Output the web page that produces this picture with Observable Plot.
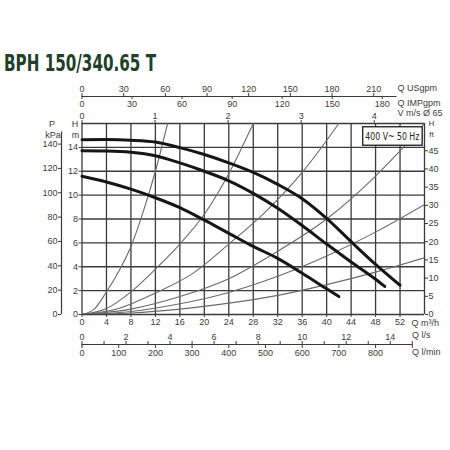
<!DOCTYPE html>
<html><head><meta charset="utf-8">
<script src="https://cdn.jsdelivr.net/npm/d3@7"></script>
<script src="https://cdn.jsdelivr.net/npm/@observablehq/plot@0.6"></script>
<style>
body{margin:0;background:#fff;}
#chart{width:450px;height:450px;}
</style></head><body><div id="chart"></div>
<script>
// ---- texts ----
const title = "BPH 150/340.65 T";
const voltageNote = "400 V~ 50 Hz";

// ---- pump curves (Q m3/h, H m) ----
const pumpQ1 = [0,4,8,12,16,20,24,28,32,36,40,44,48,52];
const pumpH1 = [14.64,14.65,14.6,14.45,13.98,13.4,12.7,11.9,10.9,9.7,8.05,6.1,4.2,2.45];
const pumpQ2 = [0,4,8,12,16,20,24,28,32,36,40,44,48,49.5];
const pumpH2 = [13.72,13.7,13.6,13.3,12.7,12.0,11.2,10.15,8.9,7.45,5.9,4.4,2.95,2.35];
const pumpQ3 = [0,4,8,12,16,20,24,28,32,36,40,42];
const pumpH3 = [11.58,11.1,10.5,9.78,8.95,7.9,6.8,5.7,4.7,3.45,2.15,1.5];

// ---- system curves (Q m3/h, H m) ----
const sysQ1 = [0,2,4,6,8,10,12,14];
const sysH1 = [0,0.45,1.9,3.6,5.7,8.6,12.0,16];
const sysQ2 = [0,4,8,12,16,20,24,28];
const sysH2 = [0,0.5,1.9,3.8,5.9,8.4,11.8,16];
const sysQ3 = [0,6,12,18,24,30,36,42];
const sysH3 = [0,0.5,1.8,3.4,5.9,8.6,11.9,16];
const sysQ4 = [0,8,16,24,32,40,48,52,56];
const sysH4 = [0,0.45,1.5,3.0,5.3,8.0,11.6,13.7,16];
const sysQ5 = [0,8,16,24,32,40,48,56];
const sysH5 = [0,0.25,0.9,1.85,3.2,4.9,6.9,9.2];
const sysQ6 = [0,8,16,24,32,40,48,56];
const sysH6 = [0,0.12,0.45,0.95,1.6,2.5,3.55,4.75];

// ---- ticks ----
const qTicks = [0,4,8,12,16,20,24,28,32,36,40,44,48,52];
const qGrid = [0,4,8,12,16,20,24,28,32,36,40,44,48,52,56];
const hTicks = [0,2,4,6,8,10,12,14];
const hGrid = [0,2,4,6,8,10,12,14,16];
const kpaTicks = [0,20,40,60,80,100,120,140];
const ftTicks = [0,5,10,15,20,25,30,35,40,45];
const usgpmTicks = [0,30,60,90,120,150,180,210];
const impgpmTicks = [0,30,60,90,120,150,180];
const velTicks = [0,1,2,3,4];
const lsTicks = [0,1,2,3,4,5,6,7,8,9,10,11,12,13,14,15];
const lsLabels = [0,2,4,6,8,10,12,14];
const lminTicks = [0,100,200,300,400,500,600,700,800,900];
const lminLabels = [0,100,200,300,400,500,600,700,800];

// ---- unit conversions ----
const KPA_PER_M = 9.80665, M_PER_FT = 0.3048;
const USGPM_PER_M3H = 4.4029, IMPGPM_PER_M3H = 3.6662;
const M3H_PER_MS = Math.PI * 0.0325 * 0.0325 * 3600; // DN65
const M3H_PER_LS = 3.6, M3H_PER_LMIN = 0.06;

const pumpData = [[pumpQ1,pumpH1],[pumpQ2,pumpH2],[pumpQ3,pumpH3]]
  .flatMap(([qs,hs],i)=>qs.map((q,j)=>({id:i,q,h:hs[j]})));
const sysData = [[sysQ1,sysH1],[sysQ2,sysH2],[sysQ3,sysH3],[sysQ4,sysH4],[sysQ5,sysH5],[sysQ6,sysH6]]
  .flatMap(([qs,hs],i)=>qs.map((q,j)=>({id:i,q,h:hs[j]})));

const gridColor = "#3a3a3a";
const ink = "#3c3c3c";
const narrow = "'Liberation Sans Narrow','DejaVu Sans Condensed','Arial Narrow',sans-serif";
const fmtSet = (set, conv) => d => { const v = Math.round(d*conv); return set.includes(v) ? String(v) : ""; };

const plot = Plot.plot({
  width: 450, height: 450,
  marginLeft: 81.5, marginRight: 26, marginTop: 123, marginBottom: 136,
  x: {domain: [0,56], label: null},
  y: {domain: [0,16], label: null},
  style: {fontFamily: "'Liberation Sans',Arial,sans-serif", fontSize: "9px", color: ink, background: "#fff", overflow: "visible"},
  marks: [
    Plot.ruleX(qGrid, {y1: 0, y2: 16, stroke: gridColor, strokeWidth: 1.3}),
    Plot.ruleY(hGrid, {x1: 0, x2: 56, stroke: gridColor, strokeWidth: 1.3}),
    Plot.line(sysData, {x: "q", y: "h", z: "id", stroke: "#6a6a6a", strokeWidth: 1.1, curve: "monotone-x", clip: true}),
    Plot.line(pumpData, {x: "q", y: "h", z: "id", stroke: "#161616", strokeWidth: 3, curve: "monotone-x"}),
    // H m (left)
    Plot.axisY(hTicks, {anchor: "left", tickSize: 3, tickPadding: 1, label: null}),
    // P kPa (far left)
    Plot.ruleX([0], {y1: 0, y2: 150 / KPA_PER_M, dx: -20.5, stroke: gridColor, strokeWidth: 1.2}),
    Plot.axisY(kpaTicks.map(k => k / KPA_PER_M), {anchor: "left", dx: -20.5, tickSize: 3, tickPadding: 1, label: null, tickFormat: d => String(Math.round(d * KPA_PER_M))}),
    // H ft (right)
    Plot.axisY(ftTicks.map(f => f * M_PER_FT), {anchor: "right", tickSize: 3, tickPadding: 1, label: null, tickFormat: d => String(Math.round(d / M_PER_FT))}),
    // Q m3/h (bottom)
    Plot.axisX(qTicks, {anchor: "bottom", tickSize: 3, tickPadding: 1, label: null}),
    // Q l/s and l/min
    Plot.ruleY([0], {x1: 0, x2: 15 * M3H_PER_LS, dy: 30, stroke: gridColor, strokeWidth: 1.2}),
    Plot.axisX(lsTicks.map(v => v * M3H_PER_LS), {anchor: "top", dy: 221, tickSize: 4, tickPadding: 1, label: null, tickFormat: fmtSet(lsLabels, 1 / M3H_PER_LS)}),
    Plot.axisX(lminTicks.map(v => v * M3H_PER_LMIN), {anchor: "bottom", dy: 30, tickSize: 4, tickPadding: 1, label: null, tickFormat: fmtSet(lminLabels, 1 / M3H_PER_LMIN)}),
    // Q USgpm and IMPgpm (top)
    Plot.ruleY([16], {x1: 0, x2: 51.5, dy: -27, stroke: gridColor, strokeWidth: 1.2}),
    Plot.axisX(usgpmTicks.map(v => v / USGPM_PER_M3H), {anchor: "top", dy: -27, tickSize: 4, tickPadding: 1, label: null, tickFormat: d => String(Math.round(d * USGPM_PER_M3H))}),
    Plot.axisX(impgpmTicks.map(v => v / IMPGPM_PER_M3H), {anchor: "bottom", dy: -218, tickSize: 3, tickPadding: 1, label: null, tickFormat: d => String(Math.round(d * IMPGPM_PER_M3H))}),
    // velocity
    Plot.axisX(velTicks.map(v => v * M3H_PER_MS), {anchor: "top", tickSize: 4, tickPadding: 1, label: null, tickFormat: d => String(Math.round(d / M3H_PER_MS))}),
    // unit labels
    Plot.text(["Q USgpm"], {frameAnchor: "top-right", dx: -27, dy: -35, textAnchor: "start", lineAnchor: "middle"}),
    Plot.text(["Q IMPgpm"], {frameAnchor: "top-right", dx: -27, dy: -20, textAnchor: "start", lineAnchor: "middle"}),
    Plot.text(["V m/s Ø 65"], {frameAnchor: "top-right", dx: -27, dy: -10, textAnchor: "start", lineAnchor: "middle"}),
    Plot.text(["H"], {frameAnchor: "top-right", dx: 7, dy: -0.5, textAnchor: "middle", lineAnchor: "middle", fontSize: 8}),
    Plot.text(["ft"], {frameAnchor: "top-right", dx: 7, dy: 10.5, textAnchor: "middle", lineAnchor: "middle", fontSize: 8}),
    Plot.text(["P"], {frameAnchor: "top-left", dx: -30, dy: 1, textAnchor: "middle", lineAnchor: "middle"}),
    Plot.text(["kPa"], {frameAnchor: "top-left", dx: -29, dy: 11.5, textAnchor: "middle", lineAnchor: "middle"}),
    Plot.text(["H"], {frameAnchor: "top-left", dx: -7, dy: 1, textAnchor: "middle", lineAnchor: "middle"}),
    Plot.text(["m"], {frameAnchor: "top-left", dx: -6.5, dy: 11.5, textAnchor: "middle", lineAnchor: "middle"}),
    Plot.text(["Q m³/h"], {frameAnchor: "bottom-right", dx: -13, dy: 9, textAnchor: "start", lineAnchor: "middle"}),
    Plot.text(["Q l/s"], {frameAnchor: "bottom-right", dx: -12.5, dy: 21, textAnchor: "start", lineAnchor: "middle"}),
    Plot.text(["Q l/min"], {frameAnchor: "bottom-right", dx: -12.5, dy: 38, textAnchor: "start", lineAnchor: "middle"}),
    // title
    Plot.text([title], {frameAnchor: "top-left", dx: -78, dy: -59.5, textAnchor: "start", lineAnchor: "middle", fontSize: 23, fontWeight: "bold", fill: "#21402a", fontFamily: narrow}),
    // voltage note
    Plot.text([voltageNote], {frameAnchor: "top-right", dx: -32.2, dy: 12.8, textAnchor: "middle", lineAnchor: "middle", fontSize: 10, fill: "#222", fontFamily: narrow})
  ]
});
document.getElementById("chart").appendChild(plot);

// post styling: title width and framed note
const svg = d3.select(plot);
svg.selectAll("text").filter(function(){ return this.textContent === title; })
  .attr("textLength", 152).attr("lengthAdjust", "spacingAndGlyphs");
svg.selectAll("text").filter(function(){ return this.textContent === voltageNote; })
  .each(function(){
    const b = this.getBBox();
    const cx = b.x + b.width / 2, cy = b.y + b.height / 2;
    const bw = 59.5, bh = 18.5;
    d3.select(this.parentNode).insert("rect", () => this)
      .attr("transform", this.getAttribute("transform"))
      .attr("x", cx - bw / 2).attr("y", cy - bh / 2).attr("width", bw).attr("height", bh)
      .attr("fill", "#fff").attr("stroke", "#2a2a2a").attr("stroke-width", 1.4);
    if (b.width > 54) d3.select(this).attr("textLength", 54).attr("lengthAdjust", "spacingAndGlyphs");
  });
</script></body></html>
